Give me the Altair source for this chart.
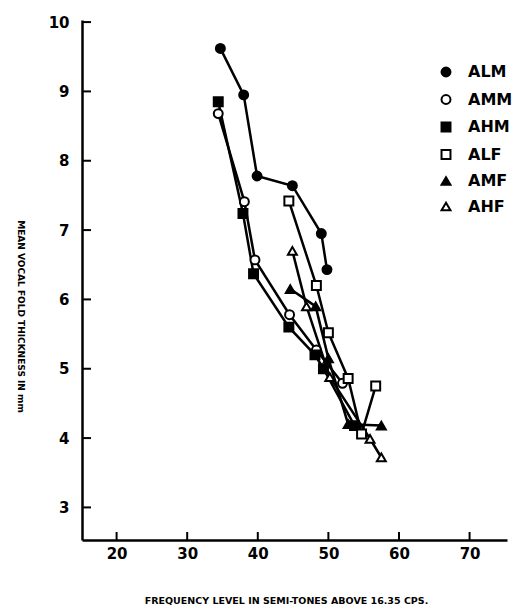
import altair as alt
import pandas as pd

series_names = ["ALM", "AMM", "AHM", "ALF", "AMF", "AHF"]
series_shapes = ["circle", "circle", "square", "square", "triangle-up", "triangle-up"]
series_fills = ["black", "white", "black", "white", "black", "white"]
series_strokes = ["black"] * 6

alm_x = [34.7, 38.0, 39.9, 44.9, 49.0, 49.8]
alm_y = [9.62, 8.95, 7.78, 7.64, 6.95, 6.43]
amm_x = [34.4, 38.1, 39.6, 44.5, 48.3, 52.0]
amm_y = [8.68, 7.41, 6.57, 5.78, 5.27, 4.79]
ahm_x = [34.4, 37.9, 39.4, 44.4, 48.1, 49.3, 53.7]
ahm_y = [8.85, 7.24, 6.37, 5.60, 5.20, 5.00, 4.18]
alf_x = [44.4, 48.3, 50.0, 52.8, 54.7, 56.7]
alf_y = [7.42, 6.20, 5.52, 4.86, 4.06, 4.75]
amf_x = [44.6, 48.2, 50.0, 52.8, 57.5]
amf_y = [6.15, 5.90, 5.15, 4.20, 4.18]
ahf_x = [44.9, 46.9, 50.2, 55.9, 57.5]
ahf_y = [6.70, 5.90, 4.88, 3.99, 3.72]

x_ticks = [20, 30, 40, 50, 60, 70]
y_ticks = [3, 4, 5, 6, 7, 8, 9, 10]
x_domain = [15.1, 75.3]
y_domain = [2.53, 10.03]

all_x = [alm_x, amm_x, ahm_x, alf_x, amf_x, ahf_x]
all_y = [alm_y, amm_y, ahm_y, alf_y, amf_y, ahf_y]
rows = []
for name, xs, ys in zip(series_names, all_x, all_y):
    for i, (xv, yv) in enumerate(zip(xs, ys)):
        rows.append({"series": name, "freq": xv, "thick": yv, "order": i})
df = pd.DataFrame(rows)
xtick_df = pd.DataFrame({"freq": x_ticks})
ytick_df = pd.DataFrame({"thick": y_ticks})

FONT = "DejaVu Sans"
xscale = alt.Scale(domain=x_domain, nice=False, zero=False)
yscale = alt.Scale(domain=y_domain, nice=False, zero=False)

x_main = alt.X(
    "freq:Q", scale=xscale,
    axis=alt.Axis(
        values=x_ticks, ticks=False, domain=True, grid=False,
        domainColor="black", domainWidth=2.5,
        labelFont=FONT, labelFontSize=15, labelFontWeight="bold", labelColor="black",
        labelPadding=6, labelFlush=False,
        title="FREQUENCY LEVEL IN SEMI-TONES ABOVE 16.35 CPS.",
        titleFont=FONT, titleFontSize=9.5, titleFontWeight="bold", titleColor="black",
        titleX=204, titleY=60, titleAlign="center", titleBaseline="middle",
    ),
)
y_main = alt.Y(
    "thick:Q", scale=yscale,
    axis=alt.Axis(
        values=y_ticks, ticks=False, domain=True, grid=False,
        domainColor="black", domainWidth=2.5,
        labelFont=FONT, labelFontSize=15, labelFontWeight="bold", labelColor="black",
        labelPadding=13, labelFlush=False,
        title="MEAN VOCAL FOLD THICKNESS IN mm",
        titleFont=FONT, titleFontSize=9, titleFontWeight="bold", titleColor="black",
        titleAngle=90, titleX=-62, titleY=296, titleAlign="center", titleBaseline="middle",
    ),
)

base = alt.Chart(df)

lines = base.mark_line(color="black", strokeWidth=2.5).encode(
    x=x_main, y=y_main, detail="series:N", order="order:Q"
)

legend_opts = dict(
    title="", orient="none", legendX=356, legendY=44,
    labelFont=FONT, labelFontSize=16, labelFontWeight="bold", labelColor="black",
    symbolStrokeColor="black", symbolStrokeWidth=2, symbolSize=80,
    labelOffset=14, rowPadding=9.5,
)

points = base.mark_point(color="black", strokeWidth=2, opacity=1,
                         fillOpacity=1, strokeOpacity=1, size=80).encode(
    x=x_main, y=y_main,
    shape=alt.Shape("series:N", scale=alt.Scale(domain=series_names, range=series_shapes),
                    legend=alt.Legend(**legend_opts)),
    fill=alt.Fill("series:N", scale=alt.Scale(domain=series_names, range=series_fills),
                  legend=alt.Legend(**legend_opts)),
    stroke=alt.Stroke("series:N", scale=alt.Scale(domain=series_names, range=series_strokes),
                      legend=alt.Legend(**legend_opts)),
)

# inward-pointing axis ticks at the tick values
xtick_marks = alt.Chart(xtick_df).mark_rule(color="black", strokeWidth=2).encode(
    x=x_main, y=alt.value(512), y2=alt.value(520)
)
ytick_marks = alt.Chart(ytick_df).mark_rule(color="black", strokeWidth=2).encode(
    y=y_main, x=alt.value(0), x2=alt.value(9)
)

chart = alt.layer(lines, points, xtick_marks, ytick_marks).properties(
    width=425, height=520,
    padding={"left": 82, "top": 20, "right": 6, "bottom": 71},
    autosize=alt.AutoSizeParams(type="none"),
    background="white",
).configure_view(stroke=None).configure_legend(
    symbolStrokeColor="black", symbolStrokeWidth=2
)

chart.save("out.html", embed_options={"renderer": "svg", "actions": False})
